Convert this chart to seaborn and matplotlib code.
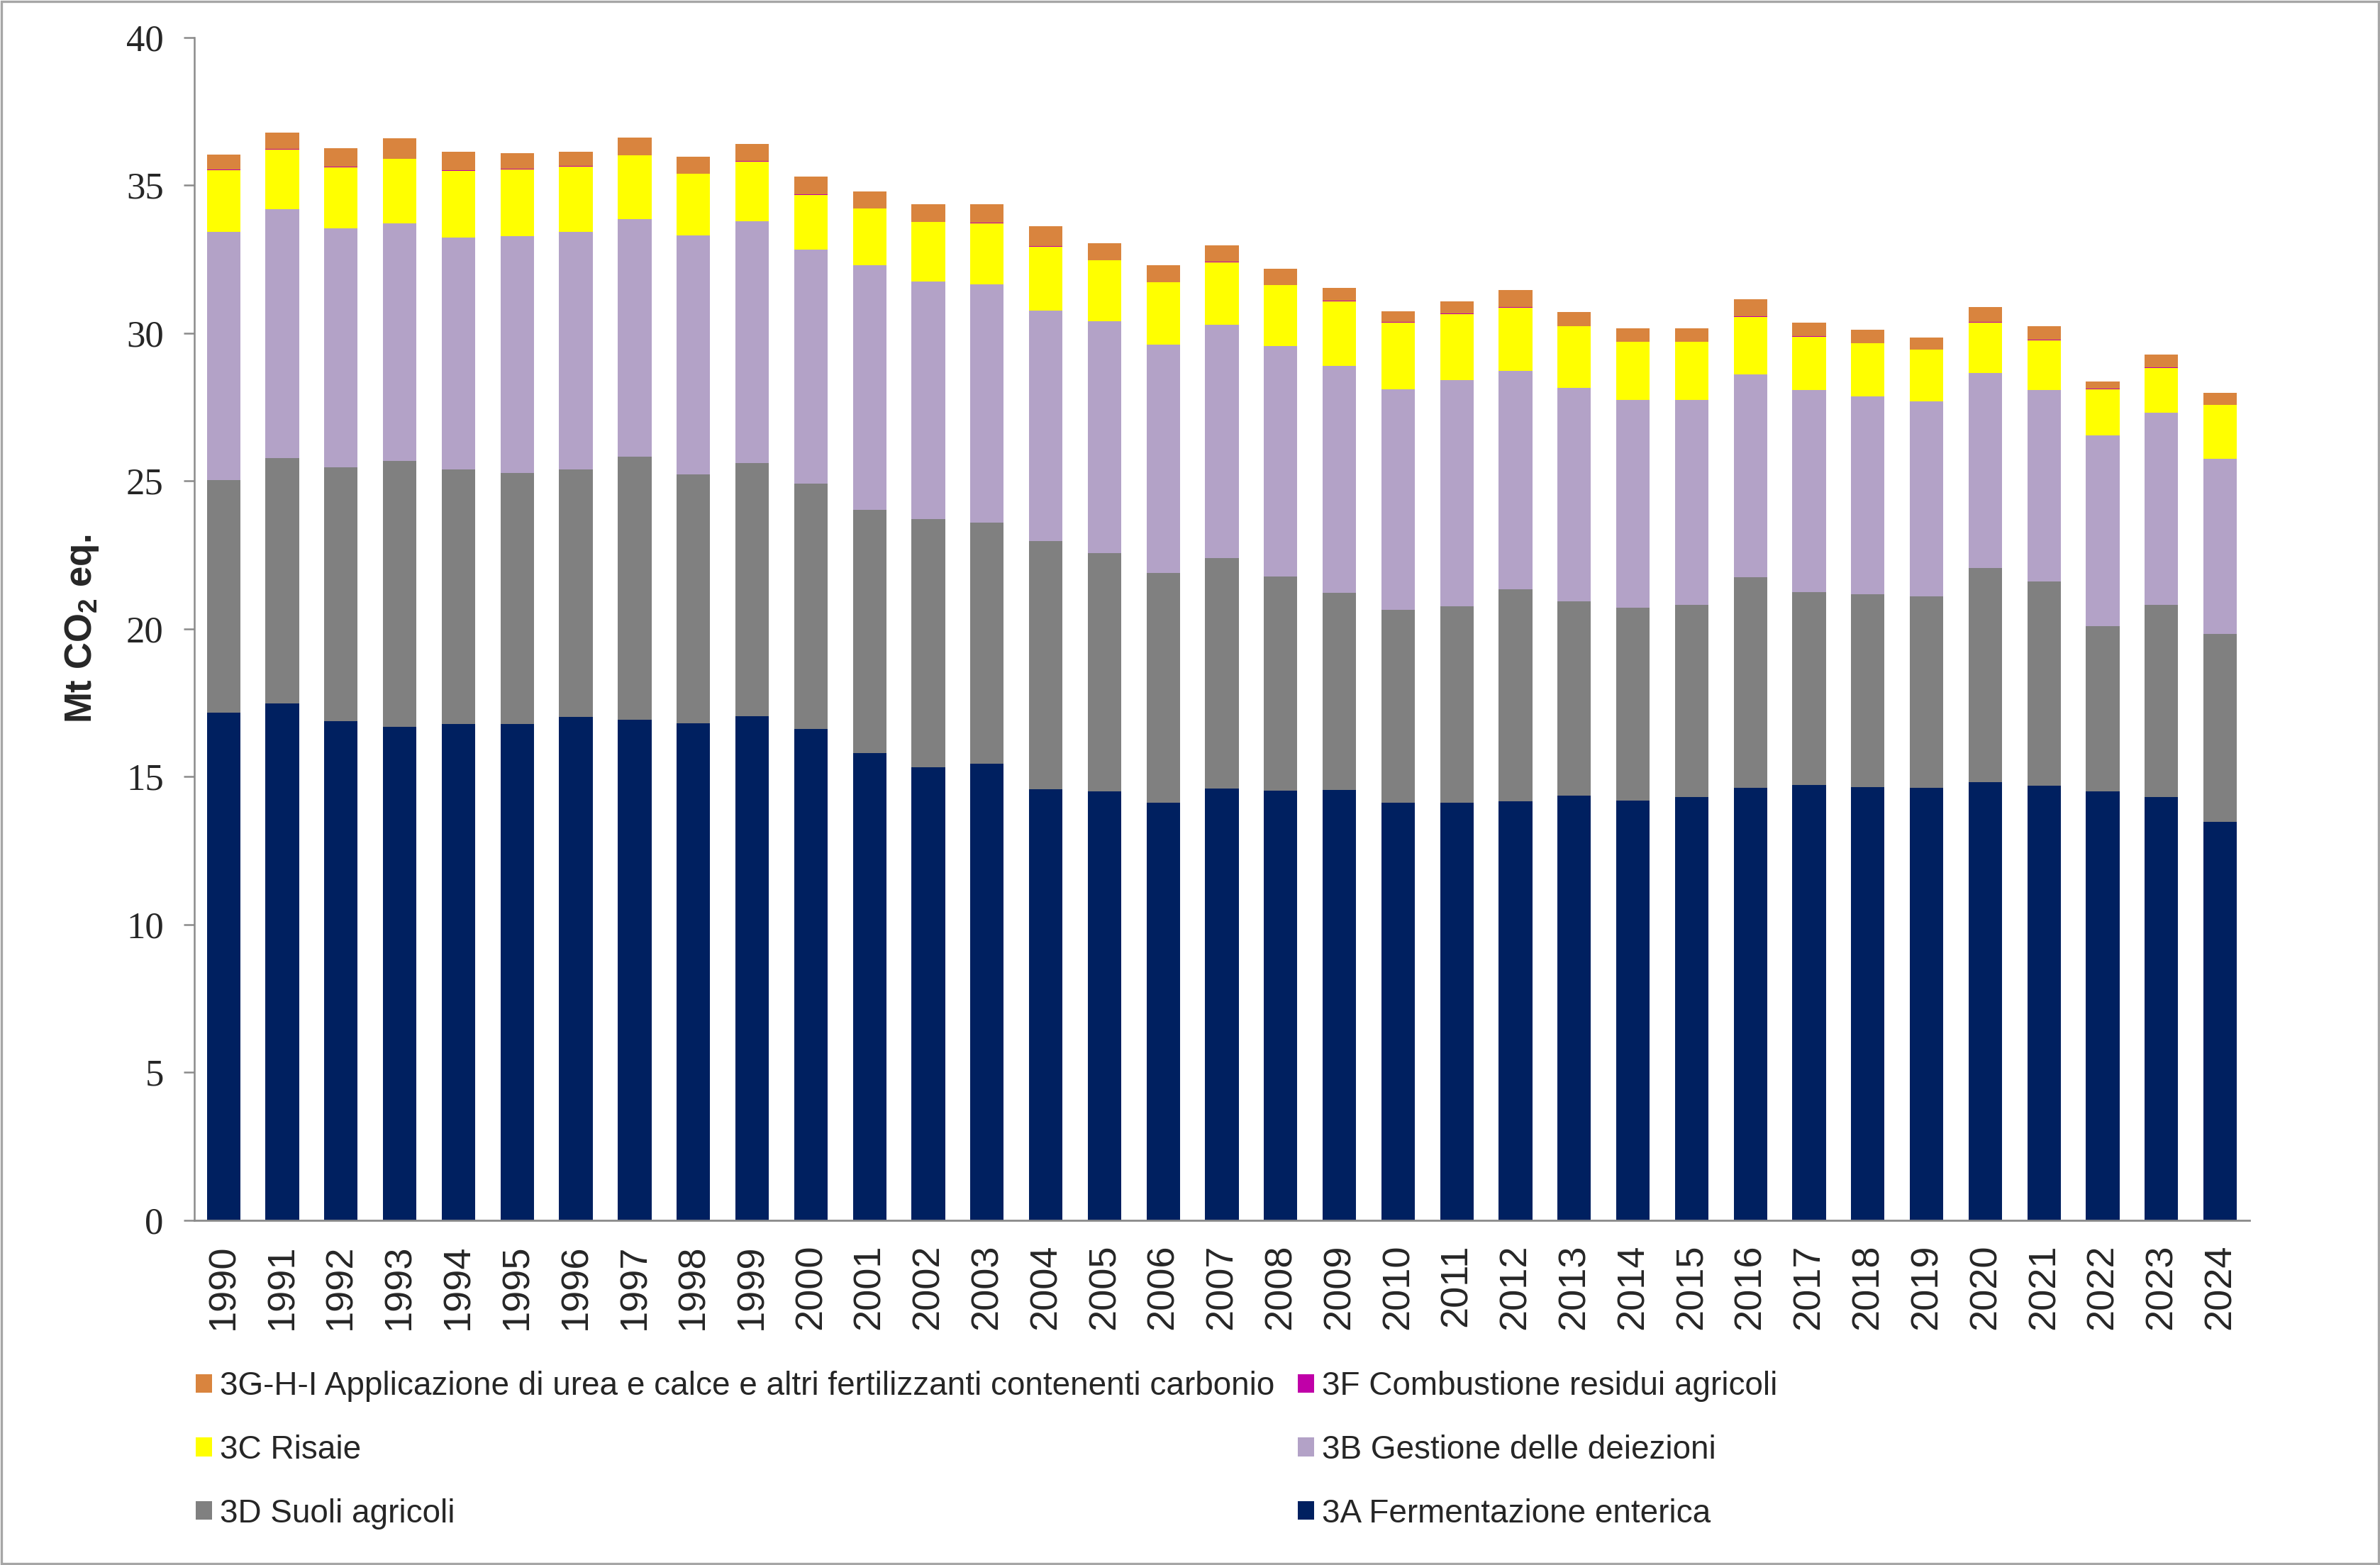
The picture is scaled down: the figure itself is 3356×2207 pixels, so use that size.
import numpy as np
import matplotlib
matplotlib.use("Agg")
import matplotlib.pyplot as plt
import seaborn as sns
from matplotlib.patches import Patch, Rectangle

years = [str(y) for y in range(1990, 2025)]

# Mt CO2 eq. per category
a3_fermentazione = [17.17, 17.48, 16.88, 16.69, 16.79, 16.79, 17.01, 16.93, 16.81, 17.05,
                    16.62, 15.81, 15.33, 15.45, 14.58, 14.51, 14.11, 14.61, 14.54, 14.56,
                    14.13, 14.13, 14.18, 14.35, 14.20, 14.32, 14.63, 14.73, 14.66, 14.63,
                    14.82, 14.70, 14.51, 14.32, 13.48]
d3_suoli = [7.87, 8.30, 8.57, 8.99, 8.59, 8.49, 8.38, 8.89, 8.42, 8.56,
            8.30, 8.21, 8.37, 8.15, 8.38, 8.04, 7.79, 7.79, 7.24, 6.65,
            6.51, 6.64, 7.15, 6.57, 6.52, 6.50, 7.11, 6.50, 6.52, 6.46,
            7.23, 6.90, 5.59, 6.49, 6.34]
b3_deiezioni = [8.37, 8.40, 8.08, 8.02, 7.85, 8.00, 8.04, 8.03, 8.08, 8.17,
                7.90, 8.28, 8.05, 8.05, 7.81, 7.84, 7.71, 7.87, 7.77, 7.68,
                7.46, 7.65, 7.39, 7.23, 7.03, 6.93, 6.87, 6.84, 6.67, 6.61,
                6.61, 6.47, 6.45, 6.50, 5.94]
c3_risaie = [2.10, 2.02, 2.08, 2.18, 2.25, 2.25, 2.20, 2.15, 2.07, 2.02,
             1.85, 1.90, 2.00, 2.06, 2.15, 2.06, 2.10, 2.12, 2.06, 2.19,
             2.25, 2.22, 2.14, 2.07, 1.95, 1.95, 1.93, 1.81, 1.80, 1.73,
             1.69, 1.68, 1.55, 1.51, 1.80]
f3_combustione = [0.015] * 35
g3_urea = [0.505, 0.555, 0.615, 0.695, 0.635, 0.535, 0.485, 0.595, 0.555, 0.585,
           0.595, 0.575, 0.585, 0.625, 0.665, 0.575, 0.575, 0.565, 0.555, 0.435,
           0.375, 0.405, 0.585, 0.485, 0.435, 0.455, 0.585, 0.455, 0.455, 0.405,
           0.525, 0.455, 0.235, 0.445, 0.405]

labels = ["3A Fermentazione enterica", "3D Suoli agricoli", "3B Gestione delle deiezioni",
          "3C Risaie", "3F Combustione residui agricoli",
          "3G-H-I Applicazione di urea e calce e altri fertilizzanti contenenti carbonio"]
colors = ["#002060", "#808080", "#b3a2c7", "#ffff00", "#c000a8", "#d9843e"]
series = [a3_fermentazione, d3_suoli, b3_deiezioni, c3_risaie, f3_combustione, g3_urea]

sns.set_style("white")
plt.rcParams["font.family"] = ["Liberation Sans", "DejaVu Sans"]
plt.rcParams["mathtext.fontset"] = "custom"
plt.rcParams["mathtext.rm"] = "Liberation Sans:bold"
plt.rcParams["mathtext.bf"] = "Liberation Sans:bold"

fig = plt.figure(figsize=(16.78, 11.035), dpi=200)
ax = fig.add_axes([0.0816, 0.2202, 0.8636, 0.756])

# stacked bars: draw cumulative totals from the top down
cum = np.cumsum(np.array(series), axis=0)
for i in range(len(series) - 1, -1, -1):
    sns.barplot(x=years, y=cum[i], color=colors[i], saturation=1, width=0.57,
                errorbar=None, linewidth=0, ax=ax)

ax.set_xlim(-0.5, 34.5)
ax.set_ylim(0, 40)
ax.set_yticks(range(0, 41, 5))
ax.set_xlabel("")
ax.set_ylabel(r"Mt CO$_\mathbf{2}$ eq.", fontsize=19, fontweight="bold", labelpad=13)

for side in ["top", "right"]:
    ax.spines[side].set_visible(False)
ax.spines["left"].set_color("#8a8a8a")
ax.spines["left"].set_linewidth(0.9)
ax.spines["bottom"].set_color("#8a8a8a")
ax.spines["bottom"].set_linewidth(1.0)

ax.tick_params(axis="y", direction="out", length=5.5, width=0.9, color="#8a8a8a", pad=10,
               left=True)
ax.tick_params(axis="x", length=0, pad=12)
for t in ax.get_yticklabels():
    t.set_fontfamily("Liberation Serif")
    t.set_fontsize(19)
for t in ax.get_xticklabels():
    t.set_rotation(90)
    t.set_fontsize(19.5)

order = [5, 3, 1, 4, 2, 0]
handles = [Patch(facecolor=colors[i], edgecolor="none") for i in order]
fig.legend(handles, [labels[i] for i in order], ncol=2, loc="upper left",
           bbox_to_anchor=(0.0822, 0.1242), frameon=False, fontsize=16.5,
           handlelength=0.5, handleheight=0.5, handletextpad=0.24,
           columnspacing=0.72, labelspacing=1.0, borderpad=0, borderaxespad=0)

fig.patches.append(Rectangle((0.0005, 0.0008), 0.999, 0.9984, transform=fig.transFigure,
                             fill=False, edgecolor="#a6a6a6", linewidth=1.2))

fig.savefig("out.png", dpi=200)
